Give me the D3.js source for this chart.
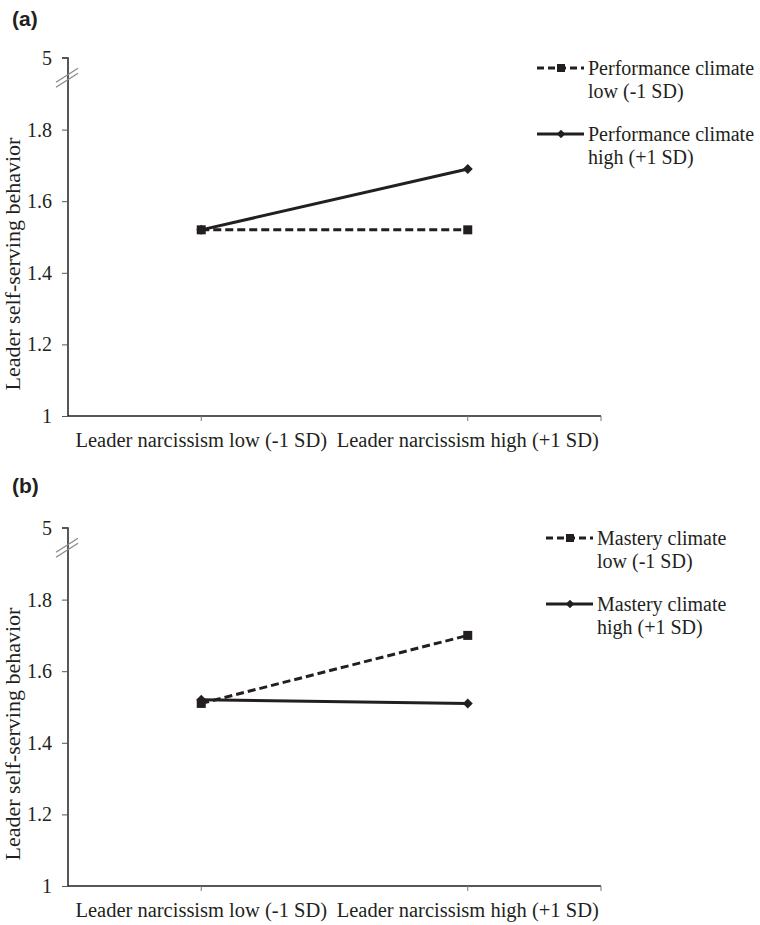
<!DOCTYPE html>
<html>
<head>
<meta charset="utf-8">
<script src="https://cdn.jsdelivr.net/npm/d3@7"></script>
<style>
  body { margin: 0; background: #fff; }
  svg text { fill: #231f20; }
  .serif { font-family: "Liberation Serif", "Times New Roman", serif; }
  .panel-tag { font-family: "Liberation Sans", Arial, sans-serif; font-weight: bold; font-size: 21px; }
</style>
</head>
<body>
<svg id="chart" width="760" height="925"></svg>
<script>
// categories on the x axis
const categories = ['Leader narcissism low (-1 SD)', 'Leader narcissism high (+1 SD)'];
// y ticks: the top tick sits where 2.0 would be, but is labelled 5 (broken axis)
const yTickValues = [1, 1.2, 1.4, 1.6, 1.8, 2.0];
const yTickLabels = ['1', '1.2', '1.4', '1.6', '1.8', '5'];

// panel (a)
const perfLow = [1.52, 1.52];
const perfHigh = [1.52, 1.69];
const perfNames = [['Performance climate', 'low (-1 SD)'], ['Performance climate', 'high (+1 SD)']];

// panel (b)
const mastLow = [1.51, 1.70];
const mastHigh = [1.52, 1.51];
const mastNames = [['Mastery climate', 'low (-1 SD)'], ['Mastery climate', 'high (+1 SD)']];

const ink = '#231f20';
const svg = d3.select('#chart');

function drawPanel(opts) {
  const m = {left: 68, top: opts.top, w: 533, h: 358};
  const g = svg.append('g').attr('transform', `translate(${m.left}, ${m.top})`);

  const x = d3.scaleBand().domain(categories).range([0, m.w]);
  const y = d3.scaleLinear().domain([1, 2]).range([m.h, 0]);
  const cx = (c) => x(c) + x.bandwidth() / 2;

  svg.append('text')
    .attr('class', 'panel-tag')
    .attr('x', 12).attr('y', opts.tagY)
    .text(opts.tag);

  // y axis
  const yAxis = g.append('g')
    .call(d3.axisLeft(y).tickValues(yTickValues).tickSize(6).tickPadding(10)
      .tickFormat((d, i) => yTickLabels[i]));
  yAxis.select('.domain').attr('d', `M-6,0H0V${m.h}`).attr('stroke', ink).attr('stroke-width', 1.5);
  yAxis.selectAll('.tick line').attr('stroke', '#555');
  yAxis.selectAll('.tick text').attr('class', 'serif').style('font-size', '20px').attr('fill', ink);

  // break marks on the axis
  const by = y(1.945);
  [-2.5, 2.5].forEach((off) => {
    g.append('line')
      .attr('x1', -12).attr('y1', by + off + 7)
      .attr('x2', 10).attr('y2', by + off - 7)
      .attr('stroke', '#8a8a8a').attr('stroke-width', 1.3);
  });

  // x axis
  const xAxis = g.append('g').attr('transform', `translate(0, ${m.h})`);
  xAxis.append('line').attr('x1', 0).attr('x2', m.w).attr('stroke', ink).attr('stroke-width', 1.5);
  const xTicks = categories.map(cx).concat([m.w]);
  xAxis.selectAll('.xt').data(xTicks).join('line')
    .attr('x1', (d) => d).attr('x2', (d) => d)
    .attr('y1', 0).attr('y2', 5)
    .attr('stroke', '#777');
  xAxis.selectAll('.xl').data(categories).join('text')
    .attr('class', 'serif')
    .attr('x', cx).attr('y', 31)
    .attr('text-anchor', 'middle')
    .style('font-size', '20.5px')
    .text((d) => d);

  // y label
  svg.append('text')
    .attr('class', 'serif')
    .attr('transform', `translate(20, ${m.top + m.h / 2 + 27}) rotate(-90)`)
    .attr('text-anchor', 'middle')
    .style('font-size', '22px')
    .text('Leader self-serving behavior');

  const line = d3.line().x((d, i) => cx(categories[i])).y((d) => y(d));

  // series
  g.append('path').datum(opts.low).attr('d', line)
    .attr('fill', 'none').attr('stroke', ink).attr('stroke-width', 3)
    .attr('stroke-dasharray', '8,4');
  g.append('path').datum(opts.high).attr('d', line)
    .attr('fill', 'none').attr('stroke', ink).attr('stroke-width', 3);

  const sq = d3.symbol().type(d3.symbolSquare).size(81);
  const dm = d3.symbol().type(d3.symbolSquare).size(50);
  g.selectAll('.sq').data(opts.low).join('path')
    .attr('transform', (d, i) => `translate(${cx(categories[i])}, ${y(d)})`)
    .attr('d', sq).attr('fill', ink);
  g.selectAll('.dm').data(opts.high).join('path')
    .attr('transform', (d, i) => `translate(${cx(categories[i])}, ${y(d)}) rotate(45)`)
    .attr('d', dm).attr('fill', ink);

  // legend
  const lg = svg.append('g').attr('transform', `translate(${opts.legendX}, ${m.top + 10})`);
  opts.names.forEach((name, i) => {
    const row = lg.append('g').attr('transform', `translate(0, ${i * 66})`);
    row.append('line').attr('x1', 0).attr('x2', 47)
      .attr('stroke', ink).attr('stroke-width', 3)
      .attr('stroke-dasharray', i === 0 ? '7,4' : null);
    row.append('path').attr('transform', `translate(24, 0)${i === 0 ? '' : ' rotate(45)'}`)
      .attr('d', i === 0 ? d3.symbol().type(d3.symbolSquare).size(64) : d3.symbol().type(d3.symbolSquare).size(36))
      .attr('fill', ink);
    const t = row.append('text').attr('class', 'serif').style('font-size', '20px')
      .attr('x', 51).attr('y', 7);
    name.forEach((s, j) => t.append('tspan').attr('x', 51).attr('dy', j ? 23 : 0).text(s));
  });
}

drawPanel({tag: '(a)', tagY: 26, top: 58, low: perfLow, high: perfHigh, names: perfNames, legendX: 537});
drawPanel({tag: '(b)', tagY: 493, top: 528, low: mastLow, high: mastHigh, names: mastNames, legendX: 546});
</script>
</body>
</html>
